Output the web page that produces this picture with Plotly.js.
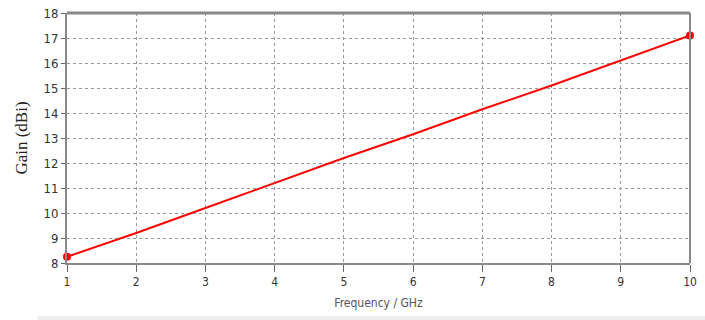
<!DOCTYPE html>
<html><head><meta charset="utf-8">
<script src="https://cdn.plot.ly/plotly-3.0.1.min.js"></script>
<style>html,body{margin:0;padding:0;background:#fff}#c{width:705px;height:320px}</style>
</head><body><div id="c"></div>
<script>
const freq = [1, 2, 3, 4, 5, 6, 7, 8, 9, 10];
const gain = [8.25, 9.2, 10.2, 11.2, 12.2, 13.15, 14.15, 15.1, 16.1, 17.1];
const endFreq = [1, 10];
const endGain = [8.25, 17.1];
const xTicks = [1, 2, 3, 4, 5, 6, 7, 8, 9, 10];
const yTicks = [8, 9, 10, 11, 12, 13, 14, 15, 16, 17, 18];

const traces = [
  {x: freq, y: gain, mode: 'lines', line: {color: '#ff0000', width: 2}, hoverinfo: 'skip'},
  {x: endFreq, y: endGain, mode: 'markers', marker: {color: '#ff0000', size: 8}, cliponaxis: false}
];
const layout = {
  width: 705, height: 320,
  margin: {l: 67, r: 15, t: 13, b: 57},
  paper_bgcolor: '#fff', plot_bgcolor: '#fff',
  showlegend: false,
  font: {family: 'DejaVu Sans', color: '#333'},
  xaxis: {
    range: [1, 10], tickvals: xTicks, ticktext: xTicks.map(String),
    showgrid: true, gridcolor: '#999', griddash: 'dot', gridwidth: 1,
    showline: true, linecolor: '#888', linewidth: 2, mirror: false,
    ticks: 'outside', ticklen: 7, tickcolor: '#666', tickwidth: 1,
    zeroline: false, tickfont: {size: 12, family: 'DejaVu Sans Condensed', color: '#333'},
    title: {text: 'Frequency / GHz', font: {size: 12, family: 'DejaVu Sans Condensed', color: '#555'}, standoff: 10}
  },
  yaxis: {
    range: [8, 18], tickvals: yTicks, ticktext: yTicks.map(String),
    showgrid: true, gridcolor: '#999', griddash: 'dot', gridwidth: 1,
    showline: true, linecolor: '#888', linewidth: 2,
    ticks: 'outside', ticklen: 4, tickcolor: '#666', tickwidth: 1,
    zeroline: false, tickfont: {size: 13, family: 'DejaVu Sans Condensed', color: '#333'},
    title: {text: 'Gain (dBi)', font: {size: 17, family: 'Liberation Serif', color: '#222'}, standoff: 12}
  },
  shapes: [
    {type: 'line', xref: 'paper', yref: 'paper', x0: 0, x1: 1, y0: 1, y1: 1, line: {color: '#888', width: 3}},
    {type: 'line', xref: 'paper', yref: 'paper', x0: 1, x1: 1, y0: 0, y1: 1, line: {color: '#888', width: 2}},
    {type: 'rect', xref: 'paper', yref: 'paper', x0: -0.047, x1: 1.03, y0: -0.212, y1: -0.24, fillcolor: '#eeeeee', line: {width: 0}}
  ]
};
Plotly.newPlot('c', traces, layout, {displayModeBar: false, staticPlot: true});
</script></body></html>
